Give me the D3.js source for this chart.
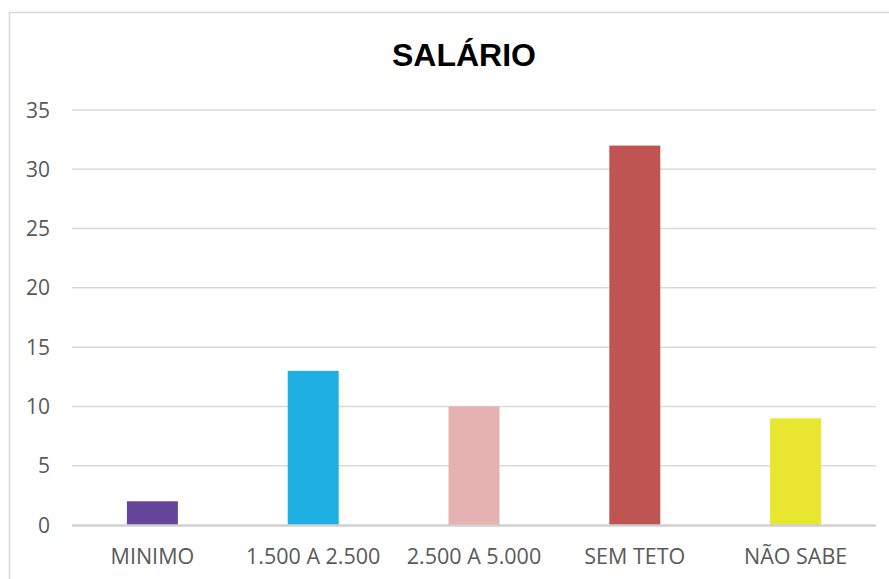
<!DOCTYPE html>
<html>
<head>
<meta charset="utf-8">
<script src="https://cdn.jsdelivr.net/npm/d3@7"></script>
<style>
  body { margin: 0; background: #fff; }
</style>
</head>
<body>
<div id="chart"></div>
<script>
// chart data
var categories = ['MINIMO', '1.500 A 2.500', '2.500 A 5.000', 'SEM TETO', 'NÃO SABE'];
var values = [2, 13, 10, 32, 9];
var barColors = ['#66449a', '#1eafe3', '#e4b2b0', '#bf5553', '#e9e62f'];
var yTicks = [0, 5, 10, 15, 20, 25, 30, 35];

var attrs = {
    svgWidth: 889,
    svgHeight: 579,
    plotLeft: 72,
    plotRight: 876,
    plotTop: 110,
    plotBottom: 525,
    textFill: '#595959',
    gridColor: '#d9d9d9',
    font: '"Open Sans", sans-serif'
};

var svg = d3.select('#chart').append('svg')
    .attr('width', attrs.svgWidth)
    .attr('height', attrs.svgHeight)
    .style('font-family', attrs.font);

// outer frame (cropped on right/bottom)
svg.append('rect')
    .attr('x', 9.5).attr('y', 12.5)
    .attr('width', 1000).attr('height', 1000)
    .attr('fill', 'none')
    .attr('stroke', attrs.gridColor)
    .attr('stroke-width', 1.5);

// scales
var x = d3.scaleBand()
    .domain(categories)
    .range([attrs.plotLeft, attrs.plotRight])
    .paddingInner(0.683)
    .paddingOuter(0.3415);

var y = d3.scaleLinear()
    .domain([0, 35])
    .range([attrs.plotBottom, attrs.plotTop]);

// grid lines
svg.append('g').selectAll('line')
    .data(yTicks.filter(d => d > 0))
    .join('line')
    .attr('x1', attrs.plotLeft).attr('x2', attrs.plotRight)
    .attr('y1', d => y(d)).attr('y2', d => y(d))
    .attr('stroke', attrs.gridColor)
    .attr('stroke-width', 1.5);

// y labels
svg.append('g').selectAll('text')
    .data(yTicks)
    .join('text')
    .attr('x', 50)
    .attr('y', d => y(d))
    .attr('dy', '0.36em')
    .attr('text-anchor', 'end')
    .attr('fill', attrs.textFill)
    .style('font-size', '21px')
    .text(d => d);

// bars
svg.append('g').selectAll('rect')
    .data(values)
    .join('rect')
    .attr('x', (d, i) => x(categories[i]))
    .attr('width', x.bandwidth())
    .attr('y', d => y(d))
    .attr('height', d => y(0) - y(d))
    .attr('fill', (d, i) => barColors[i]);

// baseline
svg.append('line')
    .attr('x1', attrs.plotLeft).attr('x2', attrs.plotRight)
    .attr('y1', y(0) + 0.5).attr('y2', y(0) + 0.5)
    .attr('stroke', '#d0d0d0')
    .attr('stroke-width', 2.5);

// x labels
svg.append('g').selectAll('text')
    .data(categories)
    .join('text')
    .attr('x', d => x(d) + x.bandwidth() / 2)
    .attr('y', 564)
    .attr('text-anchor', 'middle')
    .attr('fill', attrs.textFill)
    .style('font-size', '21.5px')
    .text(d => d);

// title
svg.append('text')
    .attr('x', 464)
    .attr('y', 66)
    .attr('text-anchor', 'middle')
    .attr('fill', '#000')
    .style('font-family', '"Liberation Sans", Arial, sans-serif')
    .style('font-weight', 'bold')
    .style('font-size', '32px')
    .text('SALÁRIO');
</script>
</body>
</html>
